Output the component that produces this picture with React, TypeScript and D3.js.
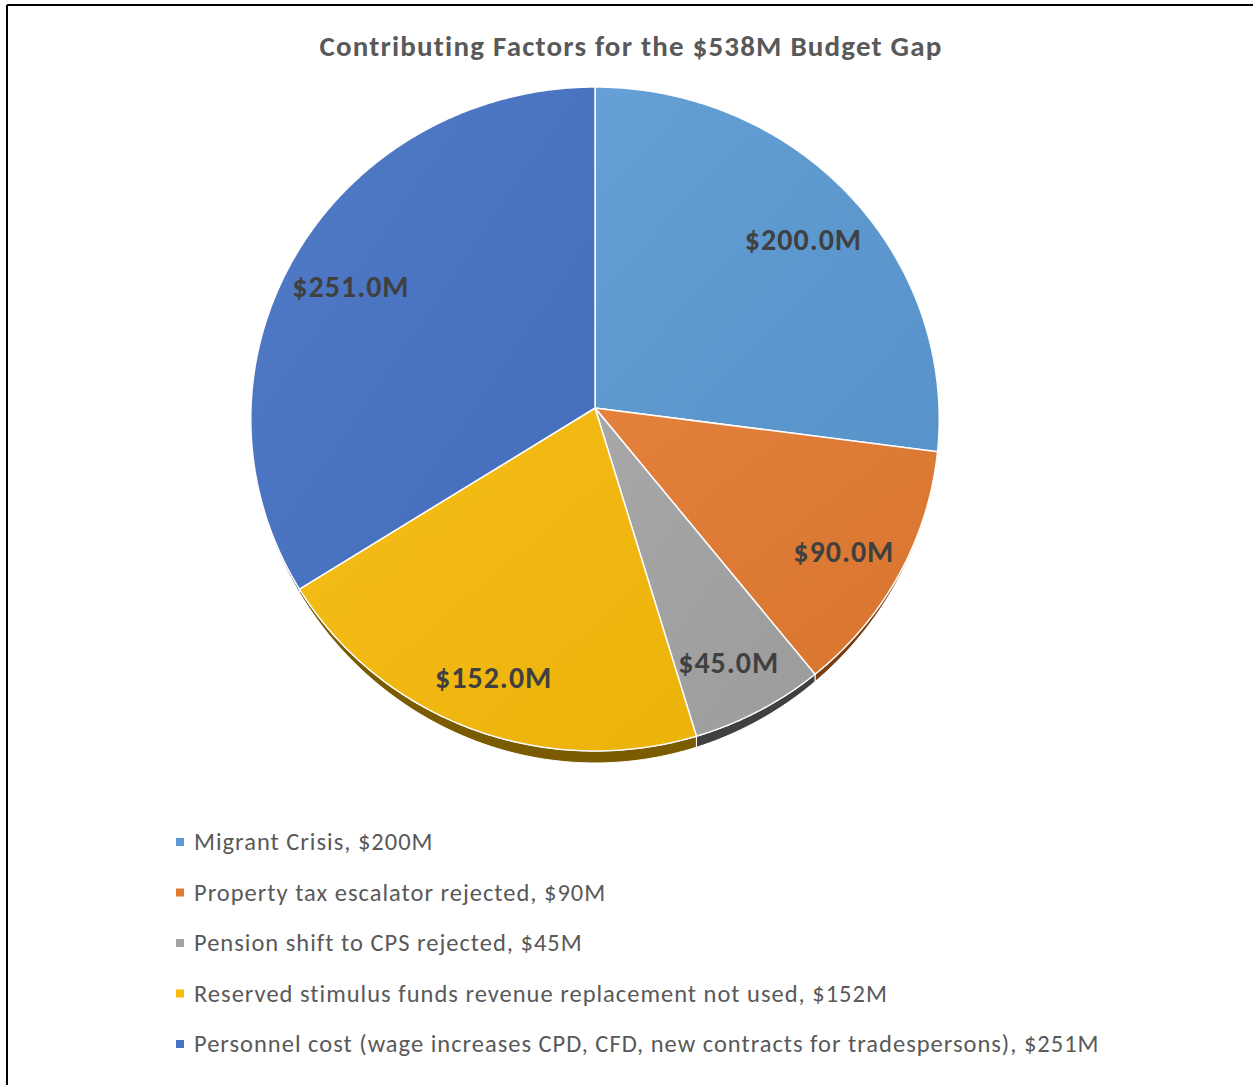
import React from "react";
import * as d3 from "d3";

const categories = [
  "Migrant Crisis, $200M",
  "Property tax escalator rejected, $90M",
  "Pension shift to CPS rejected, $45M",
  "Reserved stimulus funds revenue replacement not used, $152M",
  "Personnel cost (wage increases CPD, CFD, new contracts for tradespersons), $251M",
];
const values = [200, 90, 45, 152, 251];
const valueLabels = ["$200.0M", "$90.0M", "$45.0M", "$152.0M", "$251.0M"];
const faceColors = ["#5B9AD3", "#E27A31", "#A3A3A3", "#F6BB0B", "#4773C4"];
const wallColors = ["#2E4F6E", "#7A3D12", "#404040", "#7A5B00", "#22396A"];
const title = "Contributing Factors for the $538M Budget Gap";

const W = 1253;
const H = 1085;
const CX = 595;
const CY = 408;
const RX = 344;
const A = 331.6;
const B = 0.0331;
const WALL = 12;
const FONT = "Calibri, Carlito, Lato, 'Open Sans', sans-serif";

function project(r: number, a: number): [number, number] {
  const u = r * Math.sin(a);
  const v = -r * Math.cos(a);
  const k = 1 - B * v;
  return [CX + (RX * u) / k, CY + (A * v) / k];
}

function wallOffset(a: number) {
  const v = -Math.cos(a);
  return v > 0 ? WALL * v * v : 0;
}

export default function App() {
  const pie = d3.pie<number>().sort(null).value((d) => d);
  const arcs = pie(values);
  const step = (0.4 * Math.PI) / 180;

  const samples = (a0: number, a1: number) => {
    const n = Math.max(2, Math.ceil((a1 - a0) / step));
    return d3.range(n + 1).map((i) => a0 + ((a1 - a0) * i) / n);
  };

  const line = d3.line<[number, number]>();

  const faces = arcs.map((s) => {
    const pts: [number, number][] = [[CX, CY]];
    samples(s.startAngle, s.endAngle).forEach((a) => pts.push(project(1, a)));
    return line(pts) + "Z";
  });

  const walls = arcs.map((s) => {
    const lo = Math.max(s.startAngle, Math.PI / 2);
    const hi = Math.min(s.endAngle, (3 * Math.PI) / 2);
    if (hi <= lo) return null;
    const angs = samples(lo, hi);
    const top = angs.map((a) => project(1, a));
    const bot = angs
      .map((a) => {
        const p = project(1, a);
        return [p[0], p[1] + wallOffset(a)] as [number, number];
      })
      .reverse();
    return line([...top, ...bot]) + "Z";
  });

  const labelPos = arcs.map((s) => {
    const mid = (s.startAngle + s.endAngle) / 2;
    const p = project(0.82, mid);
    return [p[0], p[1] + 8];
  });

  return (
    <svg
      width={W}
      height={H}
      style={{ position: "absolute", left: 0, top: 0, background: "#fff" }}
    >
      <defs>
        <linearGradient id="shine" x1="0" y1="0" x2="1" y2="1">
          <stop offset="0" stopColor="#fff" stopOpacity="0.06" />
          <stop offset="1" stopColor="#000" stopOpacity="0.04" />
        </linearGradient>
      </defs>
      <rect x={0} y={0} width={W} height={H} fill="#fff" />
      <line x1={7} y1={5} x2={W} y2={5} stroke="#000" strokeWidth={2} />
      <line x1={7} y1={5} x2={7} y2={H} stroke="#000" strokeWidth={2} />

      <text
        x={631}
        y={56}
        textAnchor="middle"
        fontFamily={FONT}
        fontWeight="bold"
        fontSize={29}
        letterSpacing={1.2}
        fill="#595959"
      >
        {title}
      </text>

      {walls.map((d, i) =>
        d ? (
          <path key={"w" + i} d={d} fill={wallColors[i]} stroke="#fff" strokeWidth={1} strokeLinejoin="round" />
        ) : null
      )}
      {faces.map((d, i) => (
        <g key={"f" + i}>
          <path d={d} fill={faceColors[i]} stroke="#fff" strokeWidth={1.5} strokeLinejoin="round" />
          <path d={d} fill="url(#shine)" stroke="none" />
        </g>
      ))}

      {labelPos.map((p, i) => (
        <text
          key={"l" + i}
          x={p[0]}
          y={p[1]}
          textAnchor="middle"
          dominantBaseline="central"
          fontFamily={FONT}
          fontWeight="bold"
          fontSize={30}
          letterSpacing={1}
          fill="#404040"
        >
          {valueLabels[i]}
        </text>
      ))}

      {categories.map((c, i) => {
        const y = 842 + i * 50.5;
        return (
          <g key={"lg" + i}>
            <rect x={176} y={y - 4} width={8} height={8} fill={faceColors[i]} />
            <text
              x={194}
              y={y}
              dominantBaseline="central"
              fontFamily={FONT}
              fontSize={24.5}
              letterSpacing={1}
              fill="#595959"
            >
              {c}
            </text>
          </g>
        );
      })}
    </svg>
  );
}
